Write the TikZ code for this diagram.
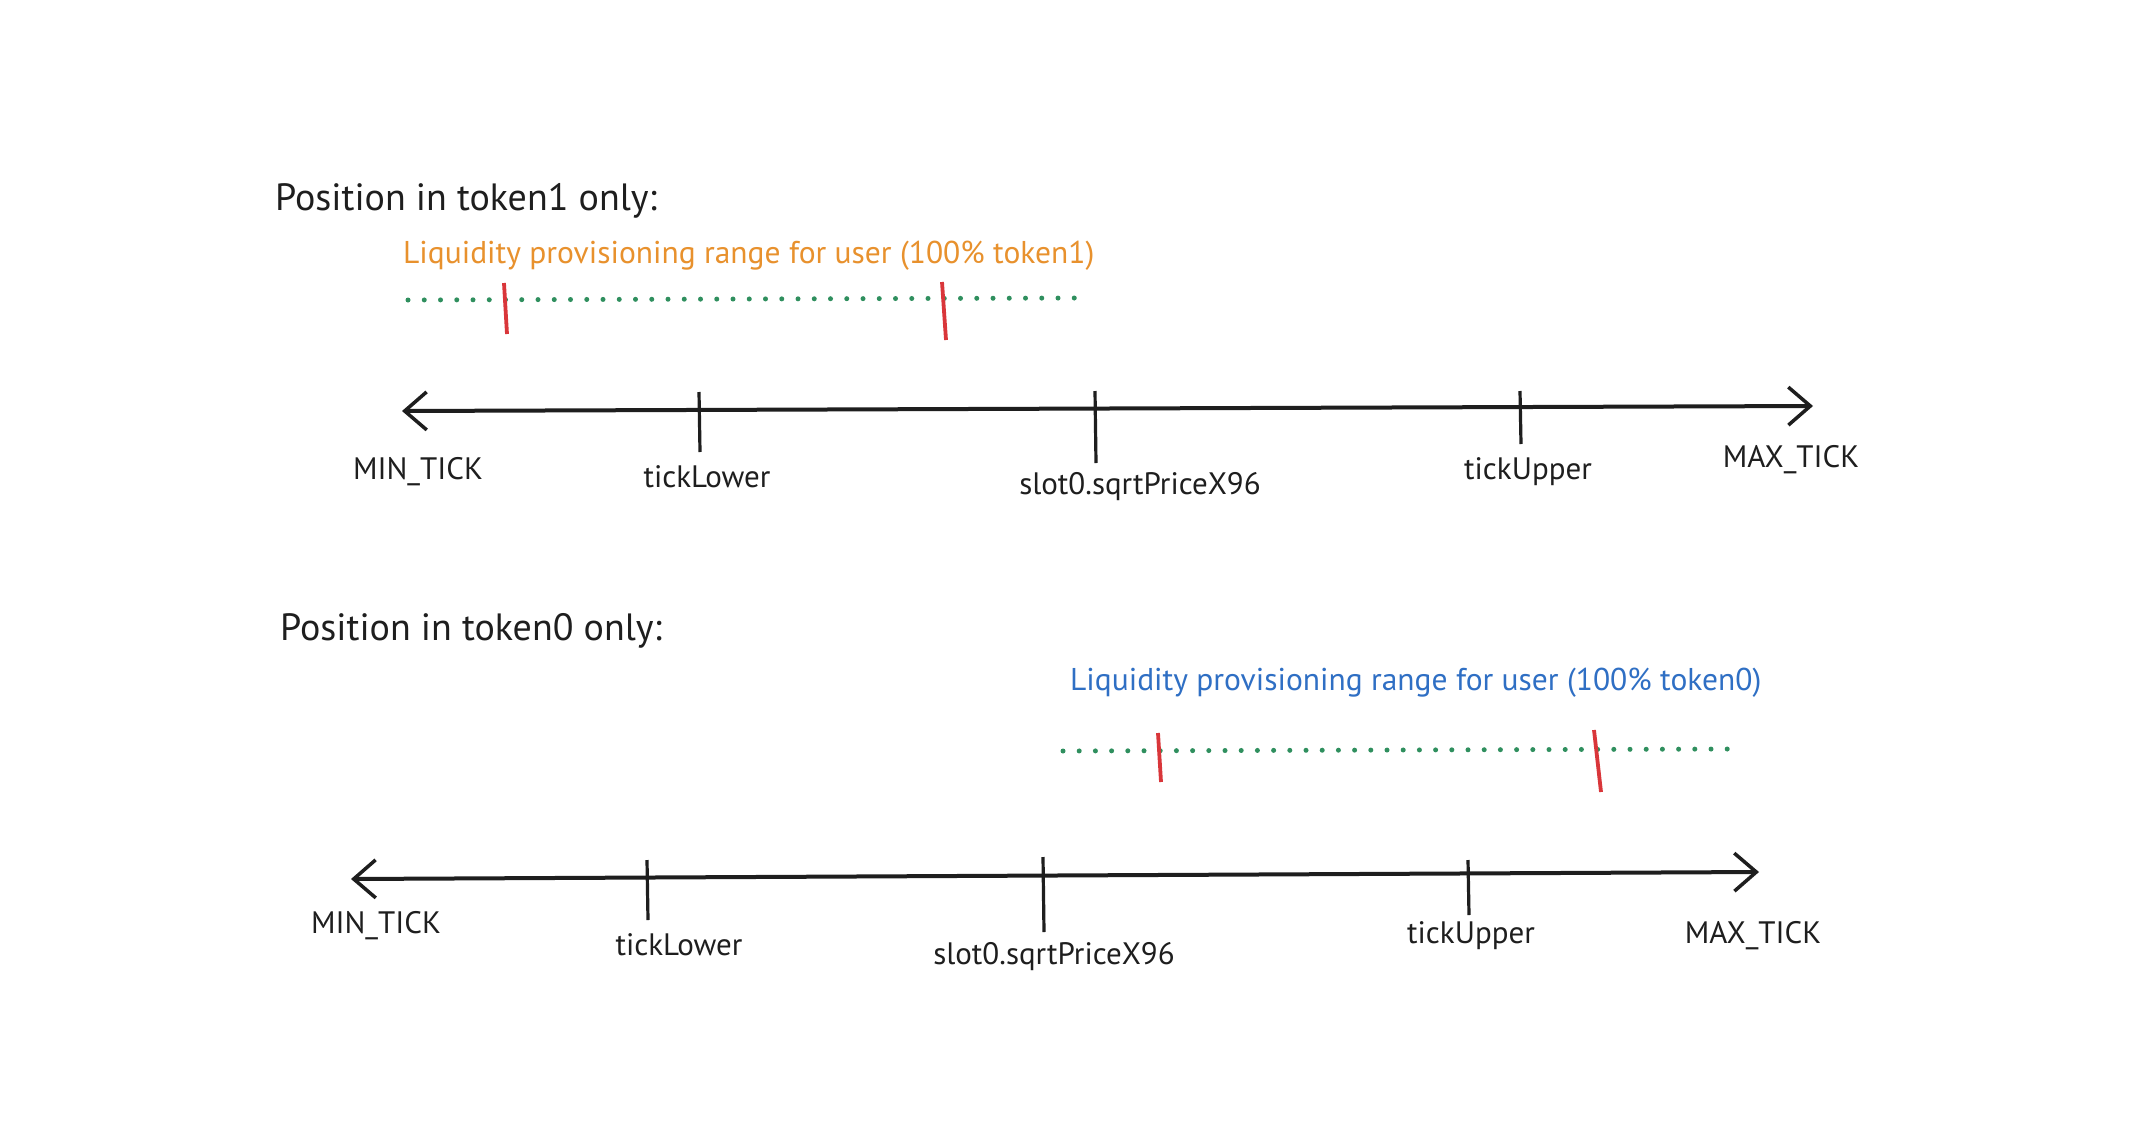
\documentclass[tikz,border=0pt]{standalone}
\usepackage{fontspec}
\setmainfont{PT Sans}
\usetikzlibrary{arrows.meta}
\definecolor{inkblack}{HTML}{1E1E1E}
\definecolor{inkorange}{HTML}{E8912D}
\definecolor{inkblue}{HTML}{2F6FC4}
\definecolor{inkgreen}{HTML}{2F8F5E}
\definecolor{inkred}{HTML}{D9363A}
\tikzset{
  axisline/.style={draw=inkblack, line width=4pt, {Straight Barb[length=22pt,width=38pt,line width=3.5pt]}-{Straight Barb[length=22pt,width=38pt,line width=3.5pt]}},
  tickline/.style={draw=inkblack, line width=3.2pt},
  redtick/.style={draw=inkred, line width=3.8pt},
  dotline/.style={draw=inkgreen, line width=5pt, line cap=round},
  ticklabel/.style={font=\fontsize{31}{36}\selectfont, text=inkblack, inner sep=0pt},
  titletext/.style={font=\fontsize{38}{44}\selectfont, text=inkblack, inner sep=0pt, anchor=west},
  rangetext/.style={font=\fontsize{31.5}{37}\selectfont, inner sep=0pt, anchor=west}
}
\begin{document}
\begin{tikzpicture}[x=1pt,y=-1pt]
\useasboundingbox (0,0) rectangle (2144,1138);
\fill[white] (0,0) rectangle (2144,1138);

% ---------- top section ----------
\node[titletext] (t1) at (275,201) {Position in token1 only:};
\node[rangetext, text=inkorange] (r1) at (403,256) {Liquidity provisioning range for user (100\% token1)};

\coordinate (d1a) at (408,300);
\coordinate (d1b) at (1076,298);
\draw[dotline, dash pattern=on 0pt off 16.25pt] (d1a) -- (d1b);
\coordinate (rt1a) at (504,283); \coordinate (rt1b) at (507,334);
\coordinate (rt2a) at (942,282); \coordinate (rt2b) at (946,340);
\draw[redtick] (rt1a) -- (rt1b);
\draw[redtick] (rt2a) -- (rt2b);

\coordinate (a1l) at (402,411);
\coordinate (a1r) at (1813,406);
\draw[axisline] (a1l) -- (a1r);
\coordinate (k1a) at (699,392); \coordinate (k1b) at (700,452);
\coordinate (k2a) at (1095,391); \coordinate (k2b) at (1096,463);
\coordinate (k3a) at (1520,391); \coordinate (k3b) at (1521,444);
\draw[tickline] (k1a) -- (k1b);
\draw[tickline] (k2a) -- (k2b);
\draw[tickline] (k3a) -- (k3b);

\node[ticklabel] (min1) at (418,472) {MIN\_TICK};
\node[ticklabel] (low1) at (707,477) {tickLower};
\node[ticklabel] (slot1) at (1140,487) {slot0.sqrtPriceX96};
\node[ticklabel] (up1) at (1528,472) {tickUpper};
\node[ticklabel] (max1) at (1791,460) {MAX\_TICK};

% ---------- bottom section ----------
\node[titletext] (t0) at (280,631) {Position in token0 only:};
\node[rangetext, text=inkblue] (r0) at (1070,683) {Liquidity provisioning range for user (100\% token0)};

\coordinate (d0a) at (1063,751);
\coordinate (d0b) at (1729,749);
\draw[dotline, dash pattern=on 0pt off 16.2pt] (d0a) -- (d0b);
\coordinate (rt3a) at (1158,733); \coordinate (rt3b) at (1161,782);
\coordinate (rt4a) at (1594,730); \coordinate (rt4b) at (1601,792);
\draw[redtick] (rt3a) -- (rt3b);
\draw[redtick] (rt4a) -- (rt4b);

\coordinate (a0l) at (351,879);
\coordinate (a0r) at (1759,872);
\draw[axisline] (a0l) -- (a0r);
\coordinate (k4a) at (647,860); \coordinate (k4b) at (648,920);
\coordinate (k5a) at (1043,857); \coordinate (k5b) at (1044,932);
\coordinate (k6a) at (1468,860); \coordinate (k6b) at (1469,915);
\draw[tickline] (k4a) -- (k4b);
\draw[tickline] (k5a) -- (k5b);
\draw[tickline] (k6a) -- (k6b);

\node[ticklabel] (min0) at (376,926) {MIN\_TICK};
\node[ticklabel] (low0) at (679,945) {tickLower};
\node[ticklabel] (slot0) at (1054,957) {slot0.sqrtPriceX96};
\node[ticklabel] (up0) at (1471,936) {tickUpper};
\node[ticklabel] (max0) at (1753,936) {MAX\_TICK};
\end{tikzpicture}
\end{document}
